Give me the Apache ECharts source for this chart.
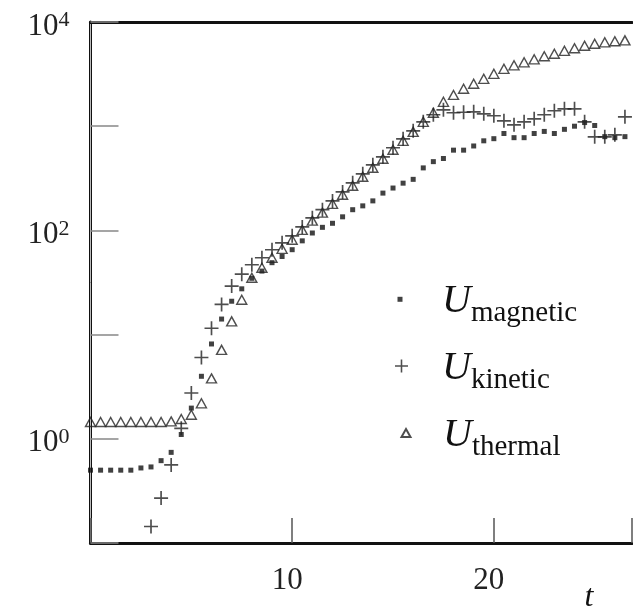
<!DOCTYPE html>
<html><head><meta charset="utf-8">
<script src="https://cdn.jsdelivr.net/npm/echarts@6/dist/echarts.min.js"></script>
<style>html,body{margin:0;padding:0;background:#fff}#c{width:633px;height:606px}</style>
</head><body><div id="c"></div>
<script>
// time samples (t)
const times = [0,0.5,1,1.5,2,2.5,3,3.5,4,4.5,5,5.5,6,6.5,7,7.5,8,8.5,9,9.5,
  10,10.5,11,11.5,12,12.5,13,13.5,14,14.5,15,15.5,16,16.5,17,17.5,18,18.5,19,19.5,
  20,20.5,21,21.5,22,22.5,23,23.5,24,24.5,25,25.5,26,26.5];
const uMagnetic = [0.50,0.50,0.50,0.50,0.50,0.525,0.537,0.617,0.741,1.10,
  1.97,3.98,8.13,14.1,20.9,27.5,34.7,40.7,49.0,56.2,
  65.3,79.4,94.4,107,117,135,158,172,192,228,
  255,284,309,398,457,490,589,589,646,724,
  759,851,776,776,851,891,851,933,1000,1084,
  1016,794,776,794];
const uKinetic = [null,null,null,null,null,null,0.144,0.27,0.562,1.26,
  2.75,6.03,11.5,19.5,29.2,38.0,46.8,54.6,65.2,76.0,
  88.7,108,132,158,192,234,286,349,426,508,
  621,757,903,1102,1288,1437,1346,1361,1374,1315,
  1259,1127,1030,1102,1178,1288,1406,1469,1469,1102,
  791,791,826,1230];
const uThermal = [1.45,1.45,1.45,1.45,1.45,1.45,1.45,1.45,1.47,1.55,
  1.70,2.19,3.8,7.14,13.4,21.6,35.1,43.8,54.6,66.6,
  81.3,101,124,148,180,220,268,327,399,487,
  594,724,883,1102,1346,1714,1995,2286,2553,2851,
  3184,3556,3841,4105,4385,4688,4955,5293,5594,5912,
  6180,6383,6531,6668];
const seriesNames = ['magnetic','kinetic','thermal'];
const xTickValues = [10, 20];
const yLabelExponents = [0, 2, 4];

const serif = 'Liberation Serif';
const pts = arr => times.map((t,i)=>[t,arr[i]]).filter(p=>p[1]!=null);
const plusPath = 'path://M8.8,0H11.2V8.8H20V11.2H11.2V20H8.8V11.2H0V8.8H8.8Z';

function mkLegend(name, left, top, w, h, padLeft) {
  return {
    data: [name], left: left, top: top, itemWidth: w, itemHeight: h, padding: 0,
    selectedMode: false,
    formatter: n => '{u|U}{s|' + n + '}',
    textStyle: {
      rich: {
        u: {fontFamily: serif, fontStyle: 'italic', fontSize: 40, lineHeight: 40, color: '#111',
            verticalAlign: 'top', padding: [2,0,0,padLeft]},
        s: {fontFamily: serif, fontSize: 29, lineHeight: 29, color: '#111', padding: [28,0,0,0]}
      }
    }
  };
}

const chart = echarts.init(document.getElementById('c'), null, {renderer:'canvas'});
chart.setOption({
  animation: false,
  backgroundColor: '#fff',
  grid: {left: 90.5, right: 1, top: 22, bottom: 63, containLabel: false, outerBoundsMode: 'none'},
  xAxis: [{
    type: 'value', min: 0, max: 26.85, interval: 10, position: 'bottom',
    axisLine: {lineStyle: {color: '#111', width: 3}},
    axisTick: {inside: true, length: 25, lineStyle: {color: '#555', width: 1.5}},
    splitLine: {show: false},
    axisLabel: {margin: 22, fontFamily: serif, fontSize: 31, lineHeight: 31, color: '#222',
      padding: [0,10,0,0],
      formatter: v => xTickValues.includes(v) ? String(v) : ''},
    name: 't', nameLocation: 'end', nameGap: -43,
    nameTextStyle: {fontFamily: serif, fontStyle: 'italic', fontSize: 32, color: '#111',
      align: 'center', verticalAlign: 'top', padding: [39,0,0,0]}
  }, {
    type: 'value', min: 0, max: 26.85, position: 'top',
    axisLine: {show: true, lineStyle: {color: '#111', width: 3}},
    axisTick: {show: false}, axisLabel: {show: false}, splitLine: {show: false}
  }],
  yAxis: [{
    type: 'log', logBase: 10, min: 0.1, max: 10000, splitNumber: 5, position: 'left',
    axisLine: {show: true, lineStyle: {color: '#111', width: 3}},
    axisTick: {show: true, inside: true, length: 28, lineStyle: {color: '#888', width: 1.5}},
    splitLine: {show: false},
    minorTick: {show: false},
    axisLabel: {
      margin: 21, color: '#222', padding: [6,0,0,0],
      formatter: v => {
        const e = Math.round(Math.log10(v));
        return yLabelExponents.includes(e) ? '{b|10}{s|' + e + '}' : '';
      },
      rich: {
        b: {fontFamily: serif, fontSize: 31, lineHeight: 31, padding: [3,0,0,0], color: '#222'},
        s: {fontFamily: serif, fontSize: 22, lineHeight: 22, verticalAlign: 'top', color: '#222'}
      }
    }
  }, {
    type: 'log', logBase: 10, min: 0.1, max: 10000, position: 'right',
    axisLine: {show: true, lineStyle: {color: '#bbb', width: 1}},
    axisTick: {show: false}, axisLabel: {show: false}, splitLine: {show: false}
  }],
  legend: [
    mkLegend('magnetic', 397.5, 270.8, 5, 5, 34.5),
    mkLegend('kinetic', 395, 337.5, 13, 13, 29),
    mkLegend('thermal', 400.5, 404.5, 9, 8, 27.5)
  ],
  series: [
    {name: 'magnetic', type: 'scatter', data: pts(uMagnetic), symbol: 'rect', symbolSize: 5,
      itemStyle: {color: '#111'}},
    {name: 'kinetic', type: 'scatter', data: pts(uKinetic), symbol: plusPath, symbolSize: 14,
      itemStyle: {color: '#222'}},
    {name: 'thermal', type: 'scatter', data: pts(uThermal), symbol: 'triangle', symbolSize: [10, 9],
      itemStyle: {color: 'rgba(255,255,255,0)', borderColor: '#222', borderWidth: 1.4}}
  ]
});
</script></body></html>
